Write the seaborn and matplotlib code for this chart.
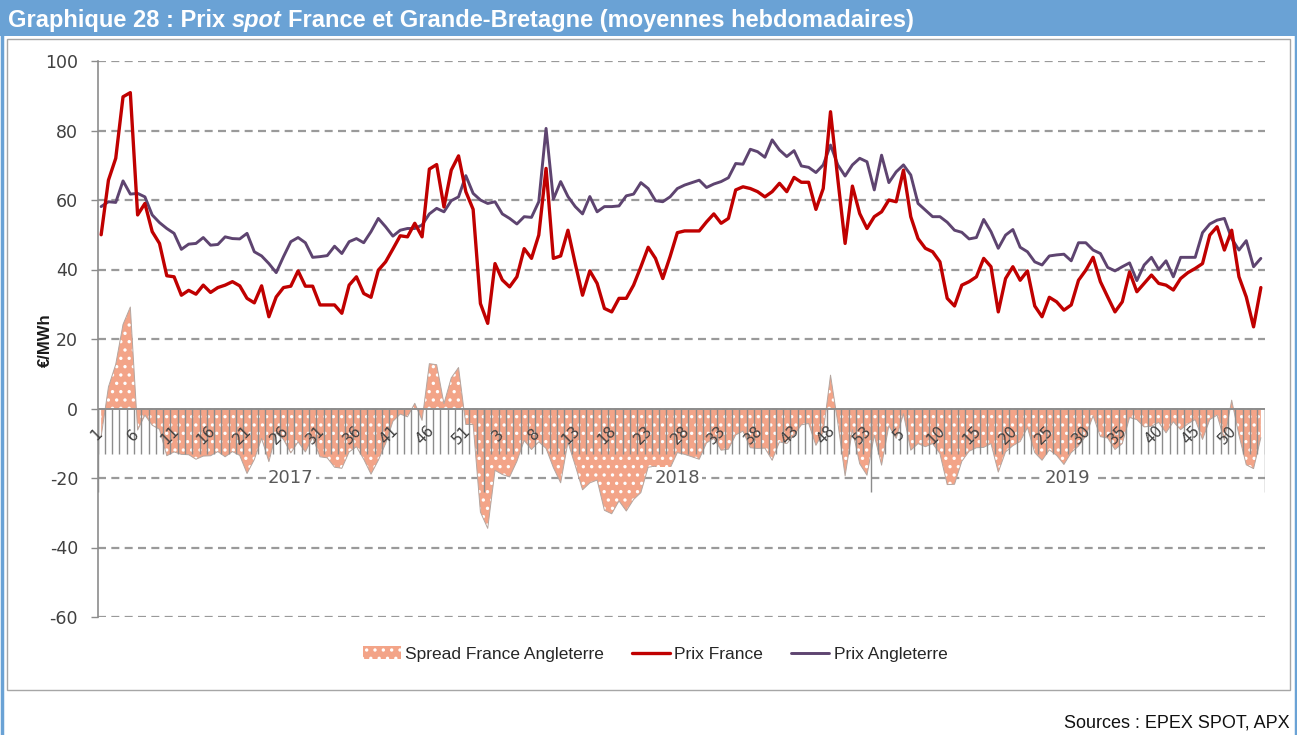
import numpy as np
import pandas as pd
import matplotlib
matplotlib.use("Agg")
import matplotlib.pyplot as plt
import seaborn as sns
from matplotlib.patches import Rectangle, Patch
from matplotlib.lines import Line2D

# ---------------- data ----------------
years = ["2017", "2018", "2019"]
weeks_per_year = [53, 53, 54]

prix_france = [
    50.0, 65.7, 72.0, 89.7, 90.9, 55.7, 59.0, 50.9, 47.5, 38.2,
    37.9, 32.6, 34.0, 32.9, 35.5, 33.4, 34.8, 35.5, 36.5, 35.3,
    31.7, 30.4, 35.3, 26.4, 32.1, 34.8, 35.2, 39.6, 35.2, 35.2,
    29.8, 29.8, 29.8, 27.4, 35.5, 37.9, 33.1, 32.0, 39.8, 42.2,
    45.9, 49.7, 49.4, 53.3, 49.4, 68.9, 70.2, 58.0, 68.6, 72.7,
    62.4, 57.3, 30.2, 24.5, 41.7, 37.0, 35.0, 37.9, 46.0, 43.2,
    49.9, 69.1, 43.2, 43.9, 51.3, 41.7, 32.6, 39.6, 36.0, 28.8,
    27.8, 31.7, 31.7, 35.5, 40.8, 46.4, 43.2, 37.4, 43.7, 50.6,
    51.1, 51.1, 51.1, 53.7, 56.0, 53.3, 54.7, 62.9, 63.8, 63.3,
    62.4, 60.9, 62.4, 64.8, 62.4, 66.5, 65.1, 65.1, 57.3, 63.3,
    85.4, 66.0, 47.5, 64.0, 56.1, 51.8, 55.2, 56.6, 60.0, 59.5,
    68.6, 55.2, 48.9, 46.1, 45.1, 42.2, 31.7, 29.5, 35.5, 36.5,
    37.9, 43.2, 40.8, 27.8, 37.4, 40.8, 36.9, 39.6, 29.5, 26.4,
    32.0, 30.7, 28.3, 29.8, 36.9, 39.8, 43.5, 36.5, 32.1, 27.8,
    30.7, 39.3, 33.6, 36.0, 38.4, 36.0, 35.5, 34.1, 37.4, 39.1,
    40.3, 41.7, 49.9, 52.3, 45.6, 51.3, 37.9, 32.1, 23.5, 34.8,
]

prix_angleterre = [
    58.1, 59.5, 59.3, 65.5, 61.7, 61.9, 60.9, 55.7, 53.5, 51.8,
    50.4, 45.8, 47.3, 47.5, 49.2, 47.0, 47.2, 49.4, 48.9, 48.8,
    50.4, 45.1, 43.9, 41.7, 39.1, 43.7, 48.0, 49.2, 47.7, 43.5,
    43.7, 44.0, 46.7, 44.6, 48.0, 48.9, 47.7, 50.9, 54.7, 52.3,
    49.6, 51.3, 51.8, 51.8, 52.8, 56.0, 57.6, 56.6, 59.8, 60.9,
    67.0, 61.9, 60.0, 59.0, 59.5, 56.0, 54.7, 53.1, 55.2, 55.0,
    59.5, 80.6, 60.2, 65.3, 61.0, 58.1, 56.0, 61.0, 56.6, 58.1,
    58.1, 58.3, 61.2, 61.7, 65.0, 63.3, 59.8, 59.5, 60.9, 63.3,
    64.3, 65.0, 65.7, 63.6, 64.6, 65.3, 66.4, 70.5, 70.3, 74.6,
    73.9, 72.3, 77.3, 74.4, 72.5, 74.2, 69.8, 69.4, 67.9, 70.1,
    75.8, 70.1, 66.9, 70.1, 72.0, 71.0, 62.9, 72.9, 65.0, 68.1,
    70.1, 67.2, 59.0, 57.1, 55.2, 55.2, 53.6, 51.3, 50.7, 48.8,
    49.2, 54.4, 50.9, 46.1, 49.9, 51.5, 46.4, 45.1, 42.2, 41.3,
    43.9, 44.2, 44.4, 42.5, 47.7, 47.7, 45.6, 44.6, 40.6, 39.6,
    40.8, 41.9, 36.8, 41.3, 43.5, 40.0, 42.5, 37.9, 43.5, 43.5,
    43.5, 50.6, 53.1, 54.2, 54.7, 48.9, 45.6, 48.3, 40.8, 43.2,
]

spread_fr_gb = [
    -8.1, 6.2, 12.7, 24.2, 29.2, -6.2, -1.9, -4.8, -6.0, -13.6,
    -12.5, -13.2, -13.3, -14.6, -13.7, -13.6, -12.4, -13.9, -12.4, -13.5,
    -18.7, -14.7, -8.6, -15.3, -7.0, -8.9, -12.8, -9.6, -12.5, -8.3,
    -13.9, -14.2, -16.9, -17.2, -12.5, -11.0, -14.6, -18.9, -14.9, -10.1,
    -3.7, -1.6, -2.4, 1.5, -3.4, 12.9, 12.6, 1.4, 8.8, 11.8,
    -4.6, -4.6, -29.8, -34.5, -17.8, -19.0, -19.7, -15.2, -9.2, -11.8,
    -9.6, -11.5, -17.0, -21.4, -9.7, -16.4, -23.4, -21.4, -20.6, -29.3,
    -30.3, -26.6, -29.5, -26.2, -24.2, -16.9, -16.6, -22.1, -17.2, -12.7,
    -13.2, -13.9, -14.6, -9.9, -8.6, -12.0, -11.7, -7.6, -6.5, -11.3,
    -11.5, -11.4, -14.9, -9.6, -10.1, -7.7, -4.7, -4.3, -10.6, -6.8,
    9.6, -4.1, -19.4, -6.1, -15.9, -19.2, -7.7, -16.3, -5.0, -8.6,
    -1.5, -12.0, -10.1, -11.0, -10.1, -13.0, -21.9, -21.8, -15.2, -12.3,
    -11.3, -11.2, -10.1, -18.3, -12.5, -10.7, -9.5, -5.5, -12.7, -14.9,
    -11.9, -13.5, -16.1, -12.7, -10.8, -7.9, -2.1, -8.1, -8.5, -11.8,
    -10.1, -2.6, -3.2, -5.3, -5.1, -4.0, -7.0, -3.8, -6.1, -4.4,
    -3.2, -8.9, -3.2, -1.9, -9.1, 2.4, -7.7, -16.2, -17.3, -8.4,
]

y_ticks = [-60, -40, -20, 0, 20, 40, 60, 80, 100]

# ---------------- styling ----------------
sns.set_style("white")
plt.rcParams["font.family"] = ["Liberation Sans", "DejaVu Sans"]
plt.rcParams["hatch.linewidth"] = 1.2

W, H = 1297, 735
fig = plt.figure(figsize=(W / 100, H / 100), dpi=100)


def fx(px):
    return px / W


def fy(py):
    return 1 - py / H


BLUE = "#6AA2D5"
RED = "#C00000"
PURPLE = "#5E4470"
SALMON = "#F3A488"
GRAY = "#8C8C8C"

# outer frame / title bar / inner box
fig.patches.append(Rectangle((0, fy(36)), 1, 36 / H, transform=fig.transFigure,
                             facecolor=BLUE, edgecolor="none", zorder=0))
fig.add_artist(Line2D([fx(1.5), fx(1.5)], [0, 1], transform=fig.transFigure, color=BLUE, lw=2.5))
fig.add_artist(Line2D([fx(1295.5), fx(1295.5)], [0, 1], transform=fig.transFigure, color=BLUE, lw=2.5))
fig.patches.append(Rectangle((fx(7), fy(690)), fx(1290) - fx(7), (690 - 39) / H,
                             transform=fig.transFigure, fill=False,
                             edgecolor="#A6A6A6", lw=1.0, zorder=0))

# ---------------- axes ----------------
ax = fig.add_axes([fx(97.5), fy(617), (1264.5 - 97.5) / W, (617 - 61) / H])
N = len(prix_france)
df = pd.DataFrame({
    "semaine": np.arange(N),
    "France": prix_france,
    "Angleterre": prix_angleterre,
    "Spread": spread_fr_gb,
})

ax.set_xlim(-0.5, N - 0.5)
ax.set_ylim(-60, 100)
ax.set_yticks(y_ticks)
ax.set_yticklabels([str(v) for v in y_ticks], fontsize=12.5, color="#404040",
                   family=["DejaVu Sans"])
ax.set_xticks([])
ax.tick_params(axis="y", length=5, width=1, color=GRAY, pad=9, left=True)
for s in ["top", "right", "bottom"]:
    ax.spines[s].set_visible(False)
ax.spines["left"].set_color(GRAY)
ax.spines["left"].set_linewidth(1.2)

# dashed grid
for v in y_ticks:
    if v != 0:
        ax.axhline(v, color="#9A9A9A", lw=1.6, linestyle=(0, (3.6, 2.4)), zorder=0.5)

# spread area with dotted pattern
ax.fill_between(df["semaine"], 0, df["Spread"], facecolor=SALMON, edgecolor="white",
                hatch="..", linewidth=0, zorder=1)
ax.plot(df["semaine"], df["Spread"], color="#B4A6A0", lw=0.7, zorder=1.2)

# category ticks
bounds = np.arange(-0.5, N, 1.0)
ax.vlines(bounds, -13, 0, color=GRAY, lw=1.0, zorder=2)
starts = np.cumsum([0] + weeks_per_year)
ax.vlines(starts - 0.5, -24, 0, color=GRAY, lw=1.0, zorder=2)
ax.axhline(0, color=GRAY, lw=1.4, zorder=2.1)

# week labels (every 5th category) and year labels
week_labels = []
for n in weeks_per_year:
    week_labels += [str(w) for w in range(1, n + 1)]
for i in range(0, N, 5):
    ax.text(i - 0.6, -7.6, week_labels[i], rotation=45, ha="center", va="center",
            fontsize=11, color="#404040", family=["DejaVu Sans"], zorder=3)
for k, yr in enumerate(years):
    c = (starts[k] + starts[k + 1] - 1) / 2
    ax.text(c, -20, yr, ha="center", va="center", fontsize=13, color="#595959",
            family=["DejaVu Sans"], zorder=3,
            bbox=dict(facecolor="white", edgecolor="none", pad=1.5))

# price lines
sns.lineplot(data=df, x="semaine", y="France", color=RED, lw=2.4, ax=ax, zorder=5)
sns.lineplot(data=df, x="semaine", y="Angleterre", color=PURPLE, lw=2.1, ax=ax, zorder=4)
ax.set_xlabel("")
ax.set_ylabel("")

fig.text(fx(45), fy(340), "€/MWh", rotation=90, ha="center", va="center",
         fontsize=12, fontweight="bold", color="#1A1A1A")

# legend
handles = [
    Patch(facecolor=SALMON, edgecolor="white", hatch="..", linewidth=0),
    Line2D([], [], color=RED, lw=2.4),
    Line2D([], [], color=PURPLE, lw=2.1),
]
labels = ["Spread France Angleterre", "Prix France", "Prix Angleterre"]
fig.legend(handles, labels, loc="center", bbox_to_anchor=(fx(655), fy(654)), ncol=3,
           frameon=False, fontsize=12.5, handlelength=2.2, handletextpad=0.25,
           columnspacing=1.6)

# title with italic "spot"
title_font = ["Liberation Sans Narrow", "Liberation Sans", "DejaVu Sans"]
renderer = fig.canvas.get_renderer()
parts = [("Graphique 28 : Prix", "normal"), ("spot", "italic"),
         ("France et Grande-Bretagne (moyennes hebdomadaires)", "normal")]
tsize = 17
tmp1 = fig.text(0, 0, "x x", fontsize=tsize, family=title_font, fontweight="bold")
tmp2 = fig.text(0, 0, "xx", fontsize=tsize, family=title_font, fontweight="bold")
space_w = (tmp1.get_window_extent(renderer).width - tmp2.get_window_extent(renderer).width)
tmp1.remove()
tmp2.remove()
xpos = 8.0
for txt, style in parts:
    t = fig.text(fx(xpos), fy(27), txt, fontsize=tsize, family=title_font, style=style,
                 fontweight="bold", color="white", ha="left", va="baseline")
    xpos += t.get_window_extent(renderer).width + space_w

fig.text(fx(1290), fy(727), "Sources : EPEX SPOT, APX", ha="right", va="baseline",
         fontsize=13, family=title_font, color="#111111")

fig.savefig("out.png", dpi=100)
